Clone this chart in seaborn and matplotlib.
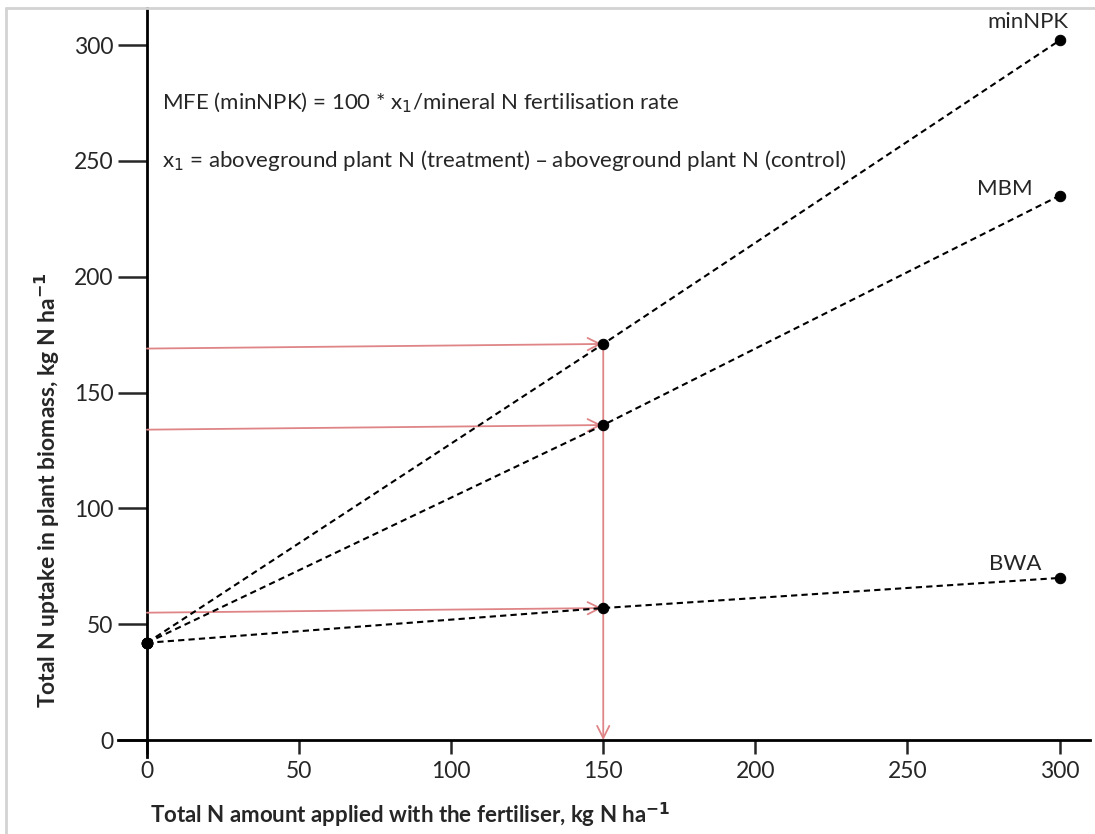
import numpy as np
import pandas as pd
import matplotlib
matplotlib.use("Agg")
import matplotlib.pyplot as plt
import seaborn as sns
from matplotlib.lines import Line2D

# data
n_applied = [0, 150, 300]
control_uptake = 42
minnpk = [42, 171, 302]
mbm = [42, 136, 235]
bwa = [42, 57, 70]
series_names = ["minNPK", "MBM", "BWA"]
arrow_start_y = [169, 134, 55]
x_ticks = [0, 50, 100, 150, 200, 250, 300]
y_ticks = [0, 50, 100, 150, 200, 250, 300]

df = pd.DataFrame({
    "applied": n_applied * 3,
    "uptake": minnpk + mbm + bwa,
    "fert": [s for s in series_names for _ in n_applied],
})

# label offsets (data units) from the last point of each line
label_offset = {"minNPK": (3, 8), "MBM": (-9, 3), "BWA": (-6, 6)}

sns.set_style("white")
plt.rcParams["font.family"] = ["Lato", "DejaVu Sans"]

fig = plt.figure(figsize=(10.95, 8.34), dpi=100)
ax = fig.add_axes([0.1078, 0.0923, 0.8876, 0.8981])

red = "#df8587"

# red read-off arrows
for s, y0 in zip(series_names, arrow_start_y):
    y1 = df[(df.fert == s) & (df.applied == 150)].uptake.iloc[0]
    ax.annotate("", xy=(150, y1), xytext=(0, y0),
                arrowprops=dict(arrowstyle="->", color=red, lw=1.3,
                                shrinkA=0, shrinkB=1, mutation_scale=22))
top150 = df[(df.fert == "minNPK") & (df.applied == 150)].uptake.iloc[0]
ax.annotate("", xy=(150, 0), xytext=(150, top150),
            arrowprops=dict(arrowstyle="->", color=red, lw=1.3,
                            shrinkA=0, shrinkB=0, mutation_scale=22))

for s in series_names:
    sub = df[df.fert == s]
    sns.lineplot(data=sub, x="applied", y="uptake", ax=ax, color="black",
                 linestyle=(0, (3, 2)), lw=1.5, marker="o", markersize=7.5,
                 markeredgecolor="black", legend=False, zorder=3)
    last = sub.iloc[-1]
    dx, dy = label_offset[s]
    ax.text(last.applied + dx, last.uptake + dy, s, ha="right", va="center",
            fontsize=16)

ax.plot([0], [control_uptake], "o", color="black", markersize=7.5, zorder=4)

ax.text(5, 275, "MFE (minNPK) = 100 * x$_1$/mineral N fertilisation rate",
        fontsize=16, va="center")
ax.text(5, 250, "x$_1$ = aboveground plant N (treatment) \u2013 aboveground plant N (control)",
        fontsize=16, va="center")

ax.set_xlabel("")
ax.set_ylabel("")
ax.set_xlim(-9.5, 310)
ax.set_ylim(-7.3, 316)
ax.spines["left"].set_position(("data", 0))
ax.spines["bottom"].set_position(("data", 0))
for side in ["top", "right"]:
    ax.spines[side].set_visible(False)
for side in ["left", "bottom"]:
    ax.spines[side].set_linewidth(2)
    ax.spines[side].set_color("black")

ax.set_xticks(x_ticks)
ax.set_yticks(y_ticks)
ax.tick_params(axis="y", direction="out", length=21, width=1.8, labelsize=16.5, pad=3, left=True)
ax.tick_params(axis="x", direction="out", length=10, width=1.8, labelsize=16.5, pad=5, bottom=True)

fig.text(150 / 1095, 1 - 815 / 834, "Total N amount applied with the fertiliser, kg N ha$^{\\mathbf{-1}}$",
         fontsize=16, fontweight="bold", va="center", ha="left")
fig.text(47 / 1095, 1 - 490 / 834, "Total N uptake in plant biomass, kg N ha$^{\\mathbf{-1}}$",
         fontsize=16.5, fontweight="bold", va="center", ha="center", rotation=90)

# light frame of the original screenshot
fig.add_artist(Line2D([6 / 1095, 6 / 1095], [0, 1 - 8 / 834], color="#d3d3d3", lw=2,
                      transform=fig.transFigure))
fig.add_artist(Line2D([6 / 1095, 1], [1 - 8 / 834, 1 - 8 / 834], color="#d3d3d3", lw=2,
                      transform=fig.transFigure))

fig.savefig("out.png", dpi=100)
